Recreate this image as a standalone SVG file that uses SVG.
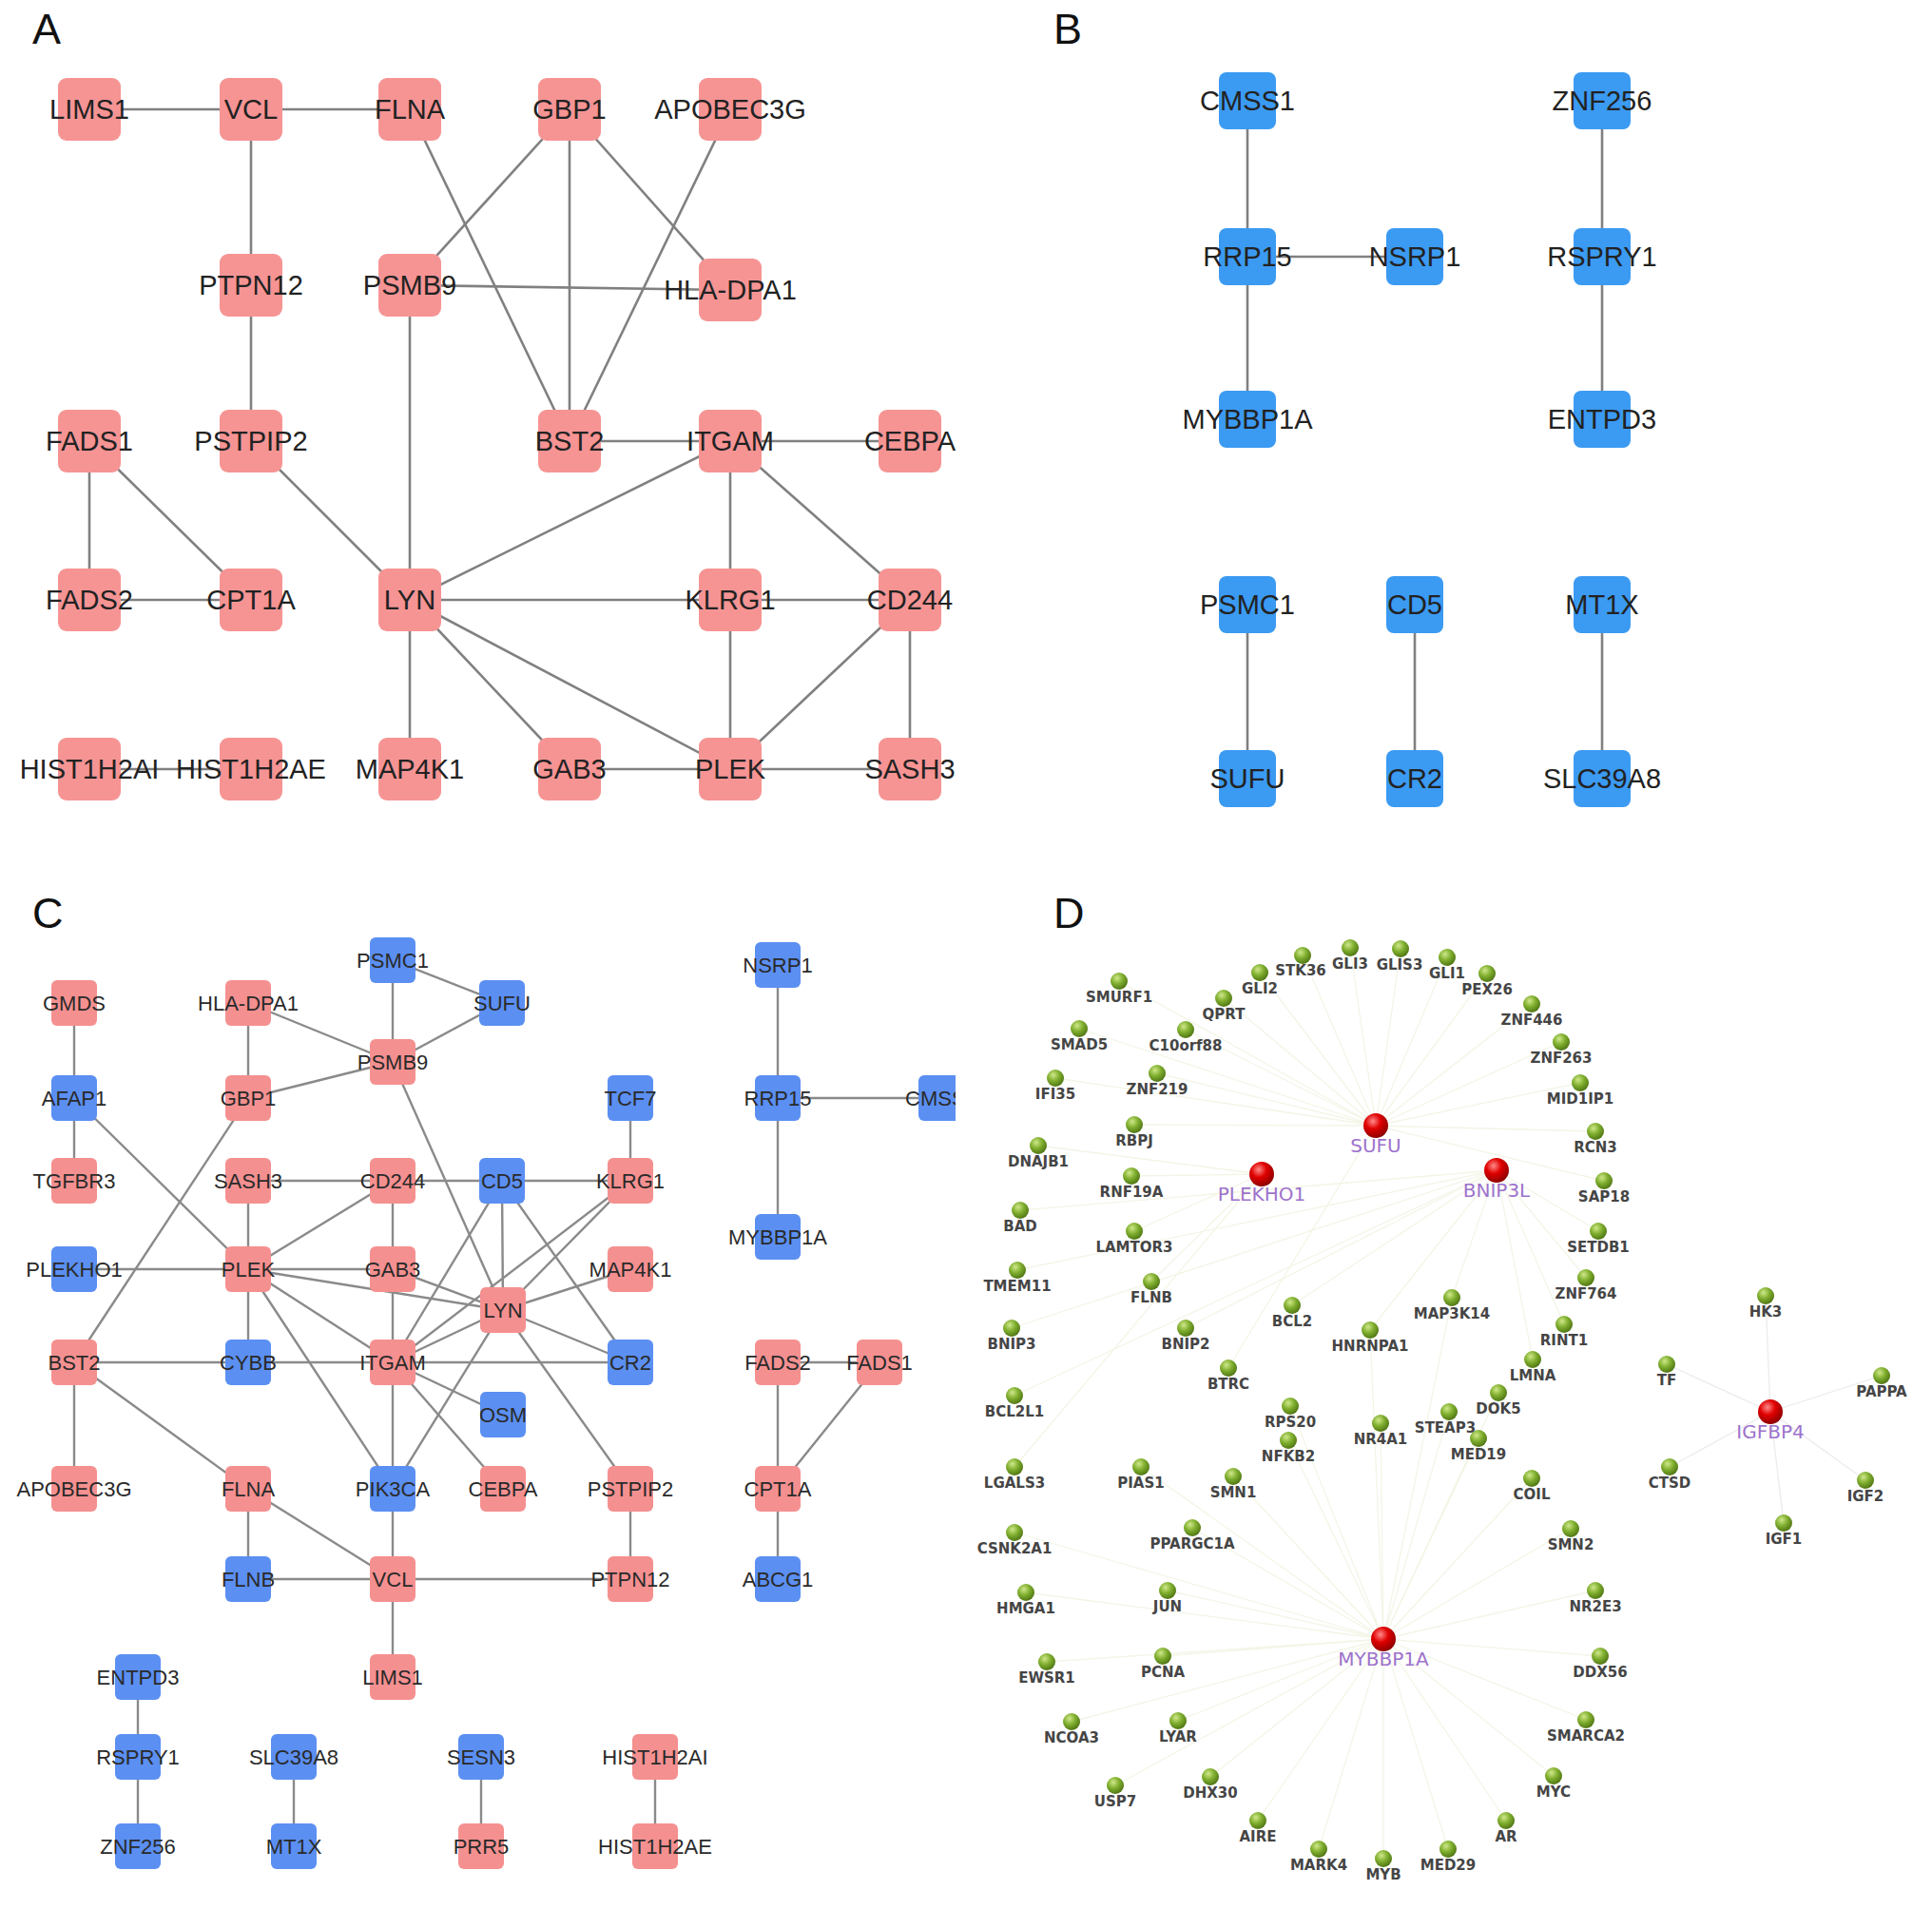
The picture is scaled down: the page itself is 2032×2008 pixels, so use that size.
<svg xmlns="http://www.w3.org/2000/svg" width="2032" height="2008" viewBox="0 0 2032 2008">
<defs>
<style>
.lbl{font-family:"Liberation Sans",Arial,sans-serif;font-size:45px;fill:#111}
.e{stroke:#808080;stroke-width:2.6;fill:none}
.ec{stroke:#8a8a8a;stroke-width:2.4;fill:none}
.ed{stroke:#f3f5e6;stroke-width:1.3;fill:none}
.ei{stroke:#ebebeb;stroke-width:1.3;fill:none}
.pa{fill:#f69494}
.pb{fill:#3b9af2}
.cp{fill:#f59090}
.cb{fill:#5b8ff2}
.ta{font-family:"Liberation Sans",Arial,sans-serif;font-size:29px;fill:#222;text-anchor:middle}
.tc{font-family:"Liberation Sans",Arial,sans-serif;font-size:22px;fill:#2a2a2a;text-anchor:middle}
.tg{font-family:"DejaVu Sans",Verdana,sans-serif;font-size:15px;font-weight:bold;fill:#454545;text-anchor:middle}
.tr{font-family:"DejaVu Sans",Verdana,sans-serif;font-size:20px;fill:#9d72cc;text-anchor:middle}
</style>
<radialGradient id="gg" cx="0.38" cy="0.32" r="0.7">
<stop offset="0" stop-color="#cfe88a"/><stop offset="0.5" stop-color="#7fae2e"/><stop offset="1" stop-color="#4f7514"/>
</radialGradient>
<radialGradient id="rg" cx="0.38" cy="0.32" r="0.7">
<stop offset="0" stop-color="#ff8a8a"/><stop offset="0.45" stop-color="#e00000"/><stop offset="1" stop-color="#8c0000"/>
</radialGradient>
<clipPath id="clipC"><rect x="0" y="960" width="1005" height="1048"/></clipPath>
</defs>
<rect width="2032" height="2008" fill="#fff"/>
<text class="lbl" x="34" y="46">A</text>
<text class="lbl" x="1108" y="46">B</text>
<text class="lbl" x="34" y="976">C</text>
<text class="lbl" x="1108" y="976">D</text>

<!-- Panel A connectors -->
<g id="connectors-A" class="e">
<line x1="94" y1="115" x2="264" y2="115"/>
<line x1="264" y1="115" x2="431" y2="115"/>
<line x1="264" y1="115" x2="264" y2="300"/>
<line x1="264" y1="300" x2="264" y2="464"/>
<line x1="264" y1="464" x2="431" y2="631"/>
<line x1="431" y1="115" x2="599" y2="464"/>
<line x1="599" y1="115" x2="431" y2="300"/>
<line x1="599" y1="115" x2="599" y2="464"/>
<line x1="599" y1="115" x2="768" y2="305"/>
<line x1="768" y1="115" x2="599" y2="464"/>
<line x1="431" y1="300" x2="768" y2="305"/>
<line x1="431" y1="300" x2="431" y2="631"/>
<line x1="599" y1="464" x2="768" y2="464"/>
<line x1="768" y1="464" x2="957" y2="464"/>
<line x1="768" y1="464" x2="431" y2="631"/>
<line x1="768" y1="464" x2="768" y2="631"/>
<line x1="768" y1="464" x2="957" y2="631"/>
<line x1="94" y1="464" x2="94" y2="631"/>
<line x1="94" y1="464" x2="264" y2="631"/>
<line x1="94" y1="631" x2="264" y2="631"/>
<line x1="431" y1="631" x2="768" y2="631"/>
<line x1="768" y1="631" x2="957" y2="631"/>
<line x1="431" y1="631" x2="431" y2="809"/>
<line x1="431" y1="631" x2="599" y2="809"/>
<line x1="431" y1="631" x2="768" y2="809"/>
<line x1="768" y1="631" x2="768" y2="809"/>
<line x1="957" y1="631" x2="768" y2="809"/>
<line x1="957" y1="631" x2="957" y2="809"/>
<line x1="599" y1="809" x2="768" y2="809"/>
<line x1="768" y1="809" x2="957" y2="809"/>
<line x1="94" y1="809" x2="264" y2="809"/>
</g>
<!-- Panel A nodes -->
<g id="A-LIMS1"><rect class="pa" x="61" y="82" width="66" height="66" rx="9"/><text class="ta" x="94" y="125">LIMS1</text></g>
<g id="A-VCL"><rect class="pa" x="231" y="82" width="66" height="66" rx="9"/><text class="ta" x="264" y="125">VCL</text></g>
<g id="A-FLNA"><rect class="pa" x="398" y="82" width="66" height="66" rx="9"/><text class="ta" x="431" y="125">FLNA</text></g>
<g id="A-GBP1"><rect class="pa" x="566" y="82" width="66" height="66" rx="9"/><text class="ta" x="599" y="125">GBP1</text></g>
<g id="A-APOBEC3G"><rect class="pa" x="735" y="82" width="66" height="66" rx="9"/><text class="ta" x="768" y="125">APOBEC3G</text></g>
<g id="A-PTPN12"><rect class="pa" x="231" y="267" width="66" height="66" rx="9"/><text class="ta" x="264" y="310">PTPN12</text></g>
<g id="A-PSMB9"><rect class="pa" x="398" y="267" width="66" height="66" rx="9"/><text class="ta" x="431" y="310">PSMB9</text></g>
<g id="A-HLA-DPA1"><rect class="pa" x="735" y="272" width="66" height="66" rx="9"/><text class="ta" x="768" y="315">HLA-DPA1</text></g>
<g id="A-FADS1"><rect class="pa" x="61" y="431" width="66" height="66" rx="9"/><text class="ta" x="94" y="474">FADS1</text></g>
<g id="A-PSTPIP2"><rect class="pa" x="231" y="431" width="66" height="66" rx="9"/><text class="ta" x="264" y="474">PSTPIP2</text></g>
<g id="A-BST2"><rect class="pa" x="566" y="431" width="66" height="66" rx="9"/><text class="ta" x="599" y="474">BST2</text></g>
<g id="A-ITGAM"><rect class="pa" x="735" y="431" width="66" height="66" rx="9"/><text class="ta" x="768" y="474">ITGAM</text></g>
<g id="A-CEBPA"><rect class="pa" x="924" y="431" width="66" height="66" rx="9"/><text class="ta" x="957" y="474">CEBPA</text></g>
<g id="A-FADS2"><rect class="pa" x="61" y="598" width="66" height="66" rx="9"/><text class="ta" x="94" y="641">FADS2</text></g>
<g id="A-CPT1A"><rect class="pa" x="231" y="598" width="66" height="66" rx="9"/><text class="ta" x="264" y="641">CPT1A</text></g>
<g id="A-LYN"><rect class="pa" x="398" y="598" width="66" height="66" rx="9"/><text class="ta" x="431" y="641">LYN</text></g>
<g id="A-KLRG1"><rect class="pa" x="735" y="598" width="66" height="66" rx="9"/><text class="ta" x="768" y="641">KLRG1</text></g>
<g id="A-CD244"><rect class="pa" x="924" y="598" width="66" height="66" rx="9"/><text class="ta" x="957" y="641">CD244</text></g>
<g id="A-HIST1H2AI"><rect class="pa" x="61" y="776" width="66" height="66" rx="9"/><text class="ta" x="94" y="819">HIST1H2AI</text></g>
<g id="A-HIST1H2AE"><rect class="pa" x="231" y="776" width="66" height="66" rx="9"/><text class="ta" x="264" y="819">HIST1H2AE</text></g>
<g id="A-MAP4K1"><rect class="pa" x="398" y="776" width="66" height="66" rx="9"/><text class="ta" x="431" y="819">MAP4K1</text></g>
<g id="A-GAB3"><rect class="pa" x="566" y="776" width="66" height="66" rx="9"/><text class="ta" x="599" y="819">GAB3</text></g>
<g id="A-PLEK"><rect class="pa" x="735" y="776" width="66" height="66" rx="9"/><text class="ta" x="768" y="819">PLEK</text></g>
<g id="A-SASH3"><rect class="pa" x="924" y="776" width="66" height="66" rx="9"/><text class="ta" x="957" y="819">SASH3</text></g>

<!-- Panel B connectors -->
<g id="connectors-B" class="e">
<line x1="1312" y1="106" x2="1312" y2="441"/>
<line x1="1312" y1="270" x2="1488" y2="270"/>
<line x1="1685" y1="106" x2="1685" y2="441"/>
<line x1="1312" y1="636" x2="1312" y2="819"/>
<line x1="1488" y1="636" x2="1488" y2="819"/>
<line x1="1685" y1="636" x2="1685" y2="819"/>
</g>
<g id="B-CMSS1"><rect class="pb" x="1282" y="76" width="60" height="60" rx="8"/><text class="ta" x="1312" y="116">CMSS1</text></g>
<g id="B-ZNF256"><rect class="pb" x="1655" y="76" width="60" height="60" rx="8"/><text class="ta" x="1685" y="116">ZNF256</text></g>
<g id="B-RRP15"><rect class="pb" x="1282" y="240" width="60" height="60" rx="8"/><text class="ta" x="1312" y="280">RRP15</text></g>
<g id="B-NSRP1"><rect class="pb" x="1458" y="240" width="60" height="60" rx="8"/><text class="ta" x="1488" y="280">NSRP1</text></g>
<g id="B-RSPRY1"><rect class="pb" x="1655" y="240" width="60" height="60" rx="8"/><text class="ta" x="1685" y="280">RSPRY1</text></g>
<g id="B-MYBBP1A"><rect class="pb" x="1282" y="411" width="60" height="60" rx="8"/><text class="ta" x="1312" y="451">MYBBP1A</text></g>
<g id="B-ENTPD3"><rect class="pb" x="1655" y="411" width="60" height="60" rx="8"/><text class="ta" x="1685" y="451">ENTPD3</text></g>
<g id="B-PSMC1"><rect class="pb" x="1282" y="606" width="60" height="60" rx="8"/><text class="ta" x="1312" y="646">PSMC1</text></g>
<g id="B-CD5"><rect class="pb" x="1458" y="606" width="60" height="60" rx="8"/><text class="ta" x="1488" y="646">CD5</text></g>
<g id="B-MT1X"><rect class="pb" x="1655" y="606" width="60" height="60" rx="8"/><text class="ta" x="1685" y="646">MT1X</text></g>
<g id="B-SUFU"><rect class="pb" x="1282" y="789" width="60" height="60" rx="8"/><text class="ta" x="1312" y="829">SUFU</text></g>
<g id="B-CR2"><rect class="pb" x="1458" y="789" width="60" height="60" rx="8"/><text class="ta" x="1488" y="829">CR2</text></g>
<g id="B-SLC39A8"><rect class="pb" x="1655" y="789" width="60" height="60" rx="8"/><text class="ta" x="1685" y="829">SLC39A8</text></g>

<!-- Panel C -->
<g clip-path="url(#clipC)">
<g id="connectors-C" class="ec">
<line x1="413" y1="1010" x2="528" y2="1055"/>
<line x1="413" y1="1010" x2="413" y2="1117"/>
<line x1="261" y1="1055" x2="413" y2="1117"/>
<line x1="528" y1="1055" x2="413" y2="1117"/>
<line x1="261" y1="1055" x2="261" y2="1155"/>
<line x1="261" y1="1155" x2="413" y2="1117"/>
<line x1="78" y1="1055" x2="78" y2="1155"/>
<line x1="78" y1="1155" x2="78" y2="1242"/>
<line x1="78" y1="1155" x2="261" y2="1335"/>
<line x1="261" y1="1155" x2="78" y2="1433"/>
<line x1="413" y1="1117" x2="529" y2="1378"/>
<line x1="663" y1="1155" x2="663" y2="1242"/>
<line x1="261" y1="1242" x2="663" y2="1242"/>
<line x1="261" y1="1242" x2="261" y2="1335"/>
<line x1="413" y1="1242" x2="261" y2="1335"/>
<line x1="413" y1="1242" x2="413" y2="1335"/>
<line x1="413" y1="1335" x2="413" y2="1433"/>
<line x1="528" y1="1242" x2="413" y2="1433"/>
<line x1="528" y1="1242" x2="529" y2="1378"/>
<line x1="528" y1="1242" x2="663" y2="1433"/>
<line x1="663" y1="1242" x2="413" y2="1433"/>
<line x1="663" y1="1242" x2="529" y2="1378"/>
<line x1="78" y1="1335" x2="413" y2="1335"/>
<line x1="261" y1="1335" x2="529" y2="1378"/>
<line x1="261" y1="1335" x2="413" y2="1433"/>
<line x1="261" y1="1335" x2="261" y2="1433"/>
<line x1="261" y1="1335" x2="413" y2="1566"/>
<line x1="413" y1="1335" x2="529" y2="1378"/>
<line x1="663" y1="1335" x2="529" y2="1378"/>
<line x1="529" y1="1378" x2="413" y2="1433"/>
<line x1="529" y1="1378" x2="663" y2="1433"/>
<line x1="529" y1="1378" x2="413" y2="1566"/>
<line x1="529" y1="1378" x2="663" y2="1566"/>
<line x1="78" y1="1433" x2="663" y2="1433"/>
<line x1="413" y1="1433" x2="529" y2="1488"/>
<line x1="413" y1="1433" x2="529" y2="1566"/>
<line x1="413" y1="1433" x2="413" y2="1566"/>
<line x1="78" y1="1433" x2="78" y2="1566"/>
<line x1="78" y1="1433" x2="261" y2="1566"/>
<line x1="261" y1="1566" x2="261" y2="1661"/>
<line x1="261" y1="1566" x2="413" y2="1661"/>
<line x1="413" y1="1566" x2="413" y2="1661"/>
<line x1="261" y1="1661" x2="663" y2="1661"/>
<line x1="663" y1="1566" x2="663" y2="1661"/>
<line x1="413" y1="1661" x2="413" y2="1764"/>
<line x1="818" y1="1015" x2="818" y2="1301"/>
<line x1="818" y1="1155" x2="990" y2="1155"/>
<line x1="818" y1="1433" x2="925" y2="1433"/>
<line x1="818" y1="1433" x2="818" y2="1661"/>
<line x1="925" y1="1433" x2="818" y2="1566"/>
<line x1="145" y1="1764" x2="145" y2="1942"/>
<line x1="309" y1="1848" x2="309" y2="1942"/>
<line x1="506" y1="1848" x2="506" y2="1942"/>
<line x1="689" y1="1848" x2="689" y2="1942"/>
</g>
<g id="C-PSMC1"><rect class="cb" x="389" y="986" width="48" height="48" rx="6"/><text class="tc" x="413" y="1018">PSMC1</text></g>
<g id="C-GMDS"><rect class="cp" x="54" y="1031" width="48" height="48" rx="6"/><text class="tc" x="78" y="1063">GMDS</text></g>
<g id="C-HLA-DPA1"><rect class="cp" x="237" y="1031" width="48" height="48" rx="6"/><text class="tc" x="261" y="1063">HLA-DPA1</text></g>
<g id="C-SUFU"><rect class="cb" x="504" y="1031" width="48" height="48" rx="6"/><text class="tc" x="528" y="1063">SUFU</text></g>
<g id="C-PSMB9"><rect class="cp" x="389" y="1093" width="48" height="48" rx="6"/><text class="tc" x="413" y="1125">PSMB9</text></g>
<g id="C-AFAP1"><rect class="cb" x="54" y="1131" width="48" height="48" rx="6"/><text class="tc" x="78" y="1163">AFAP1</text></g>
<g id="C-GBP1"><rect class="cp" x="237" y="1131" width="48" height="48" rx="6"/><text class="tc" x="261" y="1163">GBP1</text></g>
<g id="C-TCF7"><rect class="cb" x="639" y="1131" width="48" height="48" rx="6"/><text class="tc" x="663" y="1163">TCF7</text></g>
<g id="C-TGFBR3"><rect class="cp" x="54" y="1218" width="48" height="48" rx="6"/><text class="tc" x="78" y="1250">TGFBR3</text></g>
<g id="C-SASH3"><rect class="cp" x="237" y="1218" width="48" height="48" rx="6"/><text class="tc" x="261" y="1250">SASH3</text></g>
<g id="C-CD244"><rect class="cp" x="389" y="1218" width="48" height="48" rx="6"/><text class="tc" x="413" y="1250">CD244</text></g>
<g id="C-CD5"><rect class="cb" x="504" y="1218" width="48" height="48" rx="6"/><text class="tc" x="528" y="1250">CD5</text></g>
<g id="C-KLRG1"><rect class="cp" x="639" y="1218" width="48" height="48" rx="6"/><text class="tc" x="663" y="1250">KLRG1</text></g>
<g id="C-PLEKHO1"><rect class="cb" x="54" y="1311" width="48" height="48" rx="6"/><text class="tc" x="78" y="1343">PLEKHO1</text></g>
<g id="C-PLEK"><rect class="cp" x="237" y="1311" width="48" height="48" rx="6"/><text class="tc" x="261" y="1343">PLEK</text></g>
<g id="C-GAB3"><rect class="cp" x="389" y="1311" width="48" height="48" rx="6"/><text class="tc" x="413" y="1343">GAB3</text></g>
<g id="C-MAP4K1"><rect class="cp" x="639" y="1311" width="48" height="48" rx="6"/><text class="tc" x="663" y="1343">MAP4K1</text></g>
<g id="C-LYN"><rect class="cp" x="505" y="1354" width="48" height="48" rx="6"/><text class="tc" x="529" y="1386">LYN</text></g>
<g id="C-BST2"><rect class="cp" x="54" y="1409" width="48" height="48" rx="6"/><text class="tc" x="78" y="1441">BST2</text></g>
<g id="C-CYBB"><rect class="cb" x="237" y="1409" width="48" height="48" rx="6"/><text class="tc" x="261" y="1441">CYBB</text></g>
<g id="C-ITGAM"><rect class="cp" x="389" y="1409" width="48" height="48" rx="6"/><text class="tc" x="413" y="1441">ITGAM</text></g>
<g id="C-CR2"><rect class="cb" x="639" y="1409" width="48" height="48" rx="6"/><text class="tc" x="663" y="1441">CR2</text></g>
<g id="C-OSM"><rect class="cb" x="505" y="1464" width="48" height="48" rx="6"/><text class="tc" x="529" y="1496">OSM</text></g>
<g id="C-APOBEC3G"><rect class="cp" x="54" y="1542" width="48" height="48" rx="6"/><text class="tc" x="78" y="1574">APOBEC3G</text></g>
<g id="C-FLNA"><rect class="cp" x="237" y="1542" width="48" height="48" rx="6"/><text class="tc" x="261" y="1574">FLNA</text></g>
<g id="C-PIK3CA"><rect class="cb" x="389" y="1542" width="48" height="48" rx="6"/><text class="tc" x="413" y="1574">PIK3CA</text></g>
<g id="C-CEBPA"><rect class="cp" x="505" y="1542" width="48" height="48" rx="6"/><text class="tc" x="529" y="1574">CEBPA</text></g>
<g id="C-PSTPIP2"><rect class="cp" x="639" y="1542" width="48" height="48" rx="6"/><text class="tc" x="663" y="1574">PSTPIP2</text></g>
<g id="C-FLNB"><rect class="cb" x="237" y="1637" width="48" height="48" rx="6"/><text class="tc" x="261" y="1669">FLNB</text></g>
<g id="C-VCL"><rect class="cp" x="389" y="1637" width="48" height="48" rx="6"/><text class="tc" x="413" y="1669">VCL</text></g>
<g id="C-PTPN12"><rect class="cp" x="639" y="1637" width="48" height="48" rx="6"/><text class="tc" x="663" y="1669">PTPN12</text></g>
<g id="C-LIMS1"><rect class="cp" x="389" y="1740" width="48" height="48" rx="6"/><text class="tc" x="413" y="1772">LIMS1</text></g>
<g id="C-NSRP1"><rect class="cb" x="794" y="991" width="48" height="48" rx="6"/><text class="tc" x="818" y="1023">NSRP1</text></g>
<g id="C-RRP15"><rect class="cb" x="794" y="1131" width="48" height="48" rx="6"/><text class="tc" x="818" y="1163">RRP15</text></g>
<g id="C-CMSS1"><rect class="cb" x="966" y="1131" width="48" height="48" rx="6"/><text class="tc" x="990" y="1163">CMSS1</text></g>
<g id="C-MYBBP1A"><rect class="cb" x="794" y="1277" width="48" height="48" rx="6"/><text class="tc" x="818" y="1309">MYBBP1A</text></g>
<g id="C-FADS2"><rect class="cp" x="794" y="1409" width="48" height="48" rx="6"/><text class="tc" x="818" y="1441">FADS2</text></g>
<g id="C-FADS1"><rect class="cp" x="901" y="1409" width="48" height="48" rx="6"/><text class="tc" x="925" y="1441">FADS1</text></g>
<g id="C-CPT1A"><rect class="cp" x="794" y="1542" width="48" height="48" rx="6"/><text class="tc" x="818" y="1574">CPT1A</text></g>
<g id="C-ABCG1"><rect class="cb" x="794" y="1637" width="48" height="48" rx="6"/><text class="tc" x="818" y="1669">ABCG1</text></g>
<g id="C-ENTPD3"><rect class="cb" x="121" y="1740" width="48" height="48" rx="6"/><text class="tc" x="145" y="1772">ENTPD3</text></g>
<g id="C-RSPRY1"><rect class="cb" x="121" y="1824" width="48" height="48" rx="6"/><text class="tc" x="145" y="1856">RSPRY1</text></g>
<g id="C-ZNF256"><rect class="cb" x="121" y="1918" width="48" height="48" rx="6"/><text class="tc" x="145" y="1950">ZNF256</text></g>
<g id="C-SLC39A8"><rect class="cb" x="285" y="1824" width="48" height="48" rx="6"/><text class="tc" x="309" y="1856">SLC39A8</text></g>
<g id="C-MT1X"><rect class="cb" x="285" y="1918" width="48" height="48" rx="6"/><text class="tc" x="309" y="1950">MT1X</text></g>
<g id="C-SESN3"><rect class="cb" x="482" y="1824" width="48" height="48" rx="6"/><text class="tc" x="506" y="1856">SESN3</text></g>
<g id="C-PRR5"><rect class="cp" x="482" y="1918" width="48" height="48" rx="6"/><text class="tc" x="506" y="1950">PRR5</text></g>
<g id="C-HIST1H2AI"><rect class="cp" x="665" y="1824" width="48" height="48" rx="6"/><text class="tc" x="689" y="1856">HIST1H2AI</text></g>
<g id="C-HIST1H2AE"><rect class="cp" x="665" y="1918" width="48" height="48" rx="6"/><text class="tc" x="689" y="1950">HIST1H2AE</text></g>
</g>

<!-- Panel D connectors -->
<g id="connectors-D">
<path class="ed" d="M1447 1184L1522 1007M1447 1184L1473 998M1447 1184L1420 997M1447 1184L1370 1005M1447 1184L1325 1023M1447 1184L1287 1050M1447 1184L1564 1024M1447 1184L1611 1056M1447 1184L1177 1032M1447 1184L1247 1083M1447 1184L1217 1129M1447 1184L1193 1183M1447 1184L1642 1096M1447 1184L1662 1139M1447 1184L1678 1190M1447 1184L1687 1242M1447 1184L1292 1439M1447 1184L1135 1082M1447 1184L1110 1134"/>
<path class="ed" d="M1574 1231L1064 1397M1574 1231L1359 1373M1574 1231L1067 1468M1574 1231L1247 1397M1574 1231L1073 1273M1574 1231L1070 1336M1574 1231L1681 1295M1574 1231L1668 1344M1574 1231L1441 1399M1574 1231L1527 1365M1574 1231L1645 1393M1574 1231L1612 1430"/>
<path class="ed" d="M1327 1235L1092 1205M1327 1235L1190 1237M1327 1235L1193 1295M1327 1235L1211 1348M1327 1235L1067 1543"/>
<path class="ed" d="M1455 1724L1455 1955M1455 1724L1387 1945M1455 1724L1523 1945M1455 1724L1323 1915M1455 1724L1584 1915M1455 1724L1634 1868M1455 1724L1668 1809M1455 1724L1683 1742M1455 1724L1678 1673M1455 1724L1652 1608M1455 1724L1611 1555M1455 1724L1555 1513M1455 1724L1524 1485M1455 1724L1576 1465M1455 1724L1173 1878M1455 1724L1273 1869M1455 1724L1239 1810M1455 1724L1223 1742M1455 1724L1228 1673M1455 1724L1254 1607M1455 1724L1297 1553M1455 1724L1200 1543M1455 1724L1127 1811M1455 1724L1101 1748M1455 1724L1079 1675M1455 1724L1067 1612M1455 1724L1357 1479M1455 1724L1355 1515M1455 1724L1452 1497M1455 1724L1441 1399M1455 1724L1527 1365"/>
<path class="ei" d="M1862 1485L1753 1435M1862 1485L1857 1363M1862 1485L1979 1447M1862 1485L1756 1543M1862 1485L1962 1557M1862 1485L1876 1602"/>
</g>

<!-- Panel D green nodes -->
<g id="D-SMURF1"><circle cx="1177" cy="1032" r="9" fill="url(#gg)"/><text class="tg" x="1177" y="1054">SMURF1</text></g>
<g id="D-SMAD5"><circle cx="1135" cy="1082" r="9" fill="url(#gg)"/><text class="tg" x="1135" y="1104">SMAD5</text></g>
<g id="D-IFI35"><circle cx="1110" cy="1134" r="9" fill="url(#gg)"/><text class="tg" x="1110" y="1156">IFI35</text></g>
<g id="D-DNAJB1"><circle cx="1092" cy="1205" r="9" fill="url(#gg)"/><text class="tg" x="1092" y="1227">DNAJB1</text></g>
<g id="D-BAD"><circle cx="1073" cy="1273" r="9" fill="url(#gg)"/><text class="tg" x="1073" y="1295">BAD</text></g>
<g id="D-TMEM11"><circle cx="1070" cy="1336" r="9" fill="url(#gg)"/><text class="tg" x="1070" y="1358">TMEM11</text></g>
<g id="D-BNIP3"><circle cx="1064" cy="1397" r="9" fill="url(#gg)"/><text class="tg" x="1064" y="1419">BNIP3</text></g>
<g id="D-BCL2L1"><circle cx="1067" cy="1468" r="9" fill="url(#gg)"/><text class="tg" x="1067" y="1490">BCL2L1</text></g>
<g id="D-LGALS3"><circle cx="1067" cy="1543" r="9" fill="url(#gg)"/><text class="tg" x="1067" y="1565">LGALS3</text></g>
<g id="D-CSNK2A1"><circle cx="1067" cy="1612" r="9" fill="url(#gg)"/><text class="tg" x="1067" y="1634">CSNK2A1</text></g>
<g id="D-HMGA1"><circle cx="1079" cy="1675" r="9" fill="url(#gg)"/><text class="tg" x="1079" y="1697">HMGA1</text></g>
<g id="D-EWSR1"><circle cx="1101" cy="1748" r="9" fill="url(#gg)"/><text class="tg" x="1101" y="1770">EWSR1</text></g>
<g id="D-NCOA3"><circle cx="1127" cy="1811" r="9" fill="url(#gg)"/><text class="tg" x="1127" y="1833">NCOA3</text></g>
<g id="D-USP7"><circle cx="1173" cy="1878" r="9" fill="url(#gg)"/><text class="tg" x="1173" y="1900">USP7</text></g>
<g id="D-AIRE"><circle cx="1323" cy="1915" r="9" fill="url(#gg)"/><text class="tg" x="1323" y="1937">AIRE</text></g>
<g id="D-MARK4"><circle cx="1387" cy="1945" r="9" fill="url(#gg)"/><text class="tg" x="1387" y="1967">MARK4</text></g>
<g id="D-MYB"><circle cx="1455" cy="1955" r="9" fill="url(#gg)"/><text class="tg" x="1455" y="1977">MYB</text></g>
<g id="D-MED29"><circle cx="1523" cy="1945" r="9" fill="url(#gg)"/><text class="tg" x="1523" y="1967">MED29</text></g>
<g id="D-AR"><circle cx="1584" cy="1915" r="9" fill="url(#gg)"/><text class="tg" x="1584" y="1937">AR</text></g>
<g id="D-MYC"><circle cx="1634" cy="1868" r="9" fill="url(#gg)"/><text class="tg" x="1634" y="1890">MYC</text></g>
<g id="D-SMARCA2"><circle cx="1668" cy="1809" r="9" fill="url(#gg)"/><text class="tg" x="1668" y="1831">SMARCA2</text></g>
<g id="D-DDX56"><circle cx="1683" cy="1742" r="9" fill="url(#gg)"/><text class="tg" x="1683" y="1764">DDX56</text></g>
<g id="D-NR2E3"><circle cx="1678" cy="1673" r="9" fill="url(#gg)"/><text class="tg" x="1678" y="1695">NR2E3</text></g>
<g id="D-SMN2"><circle cx="1652" cy="1608" r="9" fill="url(#gg)"/><text class="tg" x="1652" y="1630">SMN2</text></g>
<g id="D-COIL"><circle cx="1611" cy="1555" r="9" fill="url(#gg)"/><text class="tg" x="1611" y="1577">COIL</text></g>
<g id="D-MED19"><circle cx="1555" cy="1513" r="9" fill="url(#gg)"/><text class="tg" x="1555" y="1535">MED19</text></g>
<g id="D-STEAP3"><circle cx="1524" cy="1485" r="9" fill="url(#gg)"/><text class="tg" x="1520" y="1507">STEAP3</text></g>
<g id="D-DOK5"><circle cx="1576" cy="1465" r="9" fill="url(#gg)"/><text class="tg" x="1576" y="1487">DOK5</text></g>
<g id="D-LMNA"><circle cx="1612" cy="1430" r="9" fill="url(#gg)"/><text class="tg" x="1612" y="1452">LMNA</text></g>
<g id="D-RINT1"><circle cx="1645" cy="1393" r="9" fill="url(#gg)"/><text class="tg" x="1645" y="1415">RINT1</text></g>
<g id="D-ZNF764"><circle cx="1668" cy="1344" r="9" fill="url(#gg)"/><text class="tg" x="1668" y="1366">ZNF764</text></g>
<g id="D-SETDB1"><circle cx="1681" cy="1295" r="9" fill="url(#gg)"/><text class="tg" x="1681" y="1317">SETDB1</text></g>
<g id="D-SAP18"><circle cx="1687" cy="1242" r="9" fill="url(#gg)"/><text class="tg" x="1687" y="1264">SAP18</text></g>
<g id="D-RCN3"><circle cx="1678" cy="1190" r="9" fill="url(#gg)"/><text class="tg" x="1678" y="1212">RCN3</text></g>
<g id="D-MID1IP1"><circle cx="1662" cy="1139" r="9" fill="url(#gg)"/><text class="tg" x="1662" y="1161">MID1IP1</text></g>
<g id="D-ZNF263"><circle cx="1642" cy="1096" r="9" fill="url(#gg)"/><text class="tg" x="1642" y="1118">ZNF263</text></g>
<g id="D-ZNF446"><circle cx="1611" cy="1056" r="9" fill="url(#gg)"/><text class="tg" x="1611" y="1078">ZNF446</text></g>
<g id="D-PEX26"><circle cx="1564" cy="1024" r="9" fill="url(#gg)"/><text class="tg" x="1564" y="1046">PEX26</text></g>
<g id="D-GLI1"><circle cx="1522" cy="1007" r="9" fill="url(#gg)"/><text class="tg" x="1522" y="1029">GLI1</text></g>
<g id="D-GLIS3"><circle cx="1473" cy="998" r="9" fill="url(#gg)"/><text class="tg" x="1472" y="1020">GLIS3</text></g>
<g id="D-GLI3"><circle cx="1420" cy="997" r="9" fill="url(#gg)"/><text class="tg" x="1420" y="1019">GLI3</text></g>
<g id="D-STK36"><circle cx="1370" cy="1005" r="9" fill="url(#gg)"/><text class="tg" x="1368" y="1026">STK36</text></g>
<g id="D-GLI2"><circle cx="1325" cy="1023" r="9" fill="url(#gg)"/><text class="tg" x="1325" y="1045">GLI2</text></g>
<g id="D-QPRT"><circle cx="1287" cy="1050" r="9" fill="url(#gg)"/><text class="tg" x="1287" y="1072">QPRT</text></g>
<g id="D-C10orf88"><circle cx="1247" cy="1083" r="9" fill="url(#gg)"/><text class="tg" x="1247" y="1105">C10orf88</text></g>
<g id="D-ZNF219"><circle cx="1217" cy="1129" r="9" fill="url(#gg)"/><text class="tg" x="1217" y="1151">ZNF219</text></g>
<g id="D-RBPJ"><circle cx="1193" cy="1183" r="9" fill="url(#gg)"/><text class="tg" x="1193" y="1205">RBPJ</text></g>
<g id="D-RNF19A"><circle cx="1190" cy="1237" r="9" fill="url(#gg)"/><text class="tg" x="1190" y="1259">RNF19A</text></g>
<g id="D-LAMTOR3"><circle cx="1193" cy="1295" r="9" fill="url(#gg)"/><text class="tg" x="1193" y="1317">LAMTOR3</text></g>
<g id="D-FLNB"><circle cx="1211" cy="1348" r="9" fill="url(#gg)"/><text class="tg" x="1211" y="1370">FLNB</text></g>
<g id="D-BNIP2"><circle cx="1247" cy="1397" r="9" fill="url(#gg)"/><text class="tg" x="1247" y="1419">BNIP2</text></g>
<g id="D-BTRC"><circle cx="1292" cy="1439" r="9" fill="url(#gg)"/><text class="tg" x="1292" y="1461">BTRC</text></g>
<g id="D-BCL2"><circle cx="1359" cy="1373" r="9" fill="url(#gg)"/><text class="tg" x="1359" y="1395">BCL2</text></g>
<g id="D-HNRNPA1"><circle cx="1441" cy="1399" r="9" fill="url(#gg)"/><text class="tg" x="1441" y="1421">HNRNPA1</text></g>
<g id="D-MAP3K14"><circle cx="1527" cy="1365" r="9" fill="url(#gg)"/><text class="tg" x="1527" y="1387">MAP3K14</text></g>
<g id="D-RPS20"><circle cx="1357" cy="1479" r="9" fill="url(#gg)"/><text class="tg" x="1357" y="1501">RPS20</text></g>
<g id="D-NFKB2"><circle cx="1355" cy="1515" r="9" fill="url(#gg)"/><text class="tg" x="1355" y="1537">NFKB2</text></g>
<g id="D-NR4A1"><circle cx="1452" cy="1497" r="9" fill="url(#gg)"/><text class="tg" x="1452" y="1519">NR4A1</text></g>
<g id="D-PIAS1"><circle cx="1200" cy="1543" r="9" fill="url(#gg)"/><text class="tg" x="1200" y="1565">PIAS1</text></g>
<g id="D-SMN1"><circle cx="1297" cy="1553" r="9" fill="url(#gg)"/><text class="tg" x="1297" y="1575">SMN1</text></g>
<g id="D-PPARGC1A"><circle cx="1254" cy="1607" r="9" fill="url(#gg)"/><text class="tg" x="1254" y="1629">PPARGC1A</text></g>
<g id="D-JUN"><circle cx="1228" cy="1673" r="9" fill="url(#gg)"/><text class="tg" x="1228" y="1695">JUN</text></g>
<g id="D-PCNA"><circle cx="1223" cy="1742" r="9" fill="url(#gg)"/><text class="tg" x="1223" y="1764">PCNA</text></g>
<g id="D-LYAR"><circle cx="1239" cy="1810" r="9" fill="url(#gg)"/><text class="tg" x="1239" y="1832">LYAR</text></g>
<g id="D-DHX30"><circle cx="1273" cy="1869" r="9" fill="url(#gg)"/><text class="tg" x="1273" y="1891">DHX30</text></g>
<g id="D-TF"><circle cx="1753" cy="1435" r="9" fill="url(#gg)"/><text class="tg" x="1753" y="1457">TF</text></g>
<g id="D-HK3"><circle cx="1857" cy="1363" r="9" fill="url(#gg)"/><text class="tg" x="1857" y="1385">HK3</text></g>
<g id="D-PAPPA"><circle cx="1979" cy="1447" r="9" fill="url(#gg)"/><text class="tg" x="1979" y="1469">PAPPA</text></g>
<g id="D-CTSD"><circle cx="1756" cy="1543" r="9" fill="url(#gg)"/><text class="tg" x="1756" y="1565">CTSD</text></g>
<g id="D-IGF2"><circle cx="1962" cy="1557" r="9" fill="url(#gg)"/><text class="tg" x="1962" y="1579">IGF2</text></g>
<g id="D-IGF1"><circle cx="1876" cy="1602" r="9" fill="url(#gg)"/><text class="tg" x="1876" y="1624">IGF1</text></g>

<!-- Panel D hub nodes -->
<g id="D-SUFU"><circle cx="1447" cy="1184" r="13" fill="url(#rg)"/><text class="tr" x="1447" y="1212">SUFU</text></g>
<g id="D-PLEKHO1"><circle cx="1327" cy="1235" r="13" fill="url(#rg)"/><text class="tr" x="1327" y="1263">PLEKHO1</text></g>
<g id="D-BNIP3L"><circle cx="1574" cy="1231" r="13" fill="url(#rg)"/><text class="tr" x="1574" y="1259">BNIP3L</text></g>
<g id="D-MYBBP1A"><circle cx="1455" cy="1724" r="13" fill="url(#rg)"/><text class="tr" x="1455" y="1752">MYBBP1A</text></g>
<g id="D-IGFBP4"><circle cx="1862" cy="1485" r="13" fill="url(#rg)"/><text class="tr" x="1862" y="1513">IGFBP4</text></g>
</svg>
